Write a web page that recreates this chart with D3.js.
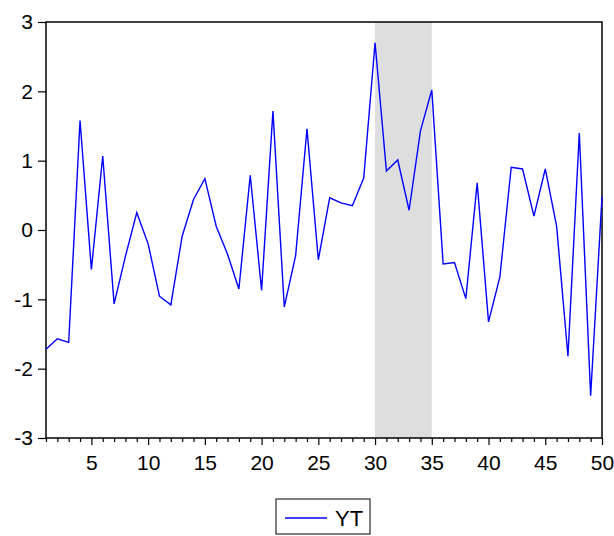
<!DOCTYPE html>
<html>
<head>
<meta charset="utf-8">
<script src="https://cdn.jsdelivr.net/npm/d3@7"></script>
<style>
  body { margin: 0; background: #fff; }
  svg { display: block; }
  text { font-family: Arial, "Liberation Sans", sans-serif; fill: #000; }
</style>
</head>
<body>
<div id="chart"></div>
<script>
// observations 1..50
const obs = d3.range(1, 51)
const yt = [-1.72, -1.57, -1.62, 1.58, -0.57, 1.065, -1.065, -0.38, 0.25, -0.2,
  -0.955, -1.08, -0.09, 0.44, 0.74, 0.055, -0.35, -0.85, 0.79, -0.87,
  1.715, -1.11, -0.37, 1.46, -0.43, 0.465, 0.39, 0.35, 0.75, 2.70,
  0.85, 1.01, 0.285, 1.43, 2.02, -0.49, -0.47, -0.99, 0.68, -1.325,
  -0.675, 0.905, 0.88, 0.2, 0.88, 0.055, -1.82, 1.40, -2.39, 0.48]
const shade = [30, 35]
const yTicks = [-3, -2, -1, 0, 1, 2, 3]
const xTicks = [5, 10, 15, 20, 25, 30, 35, 40, 45, 50]

const width = 614, height = 536
const pLeft = 46, pRight = 602, pTop = 22, pBottom = 438

const svg = d3.select('#chart').append('svg')
  .attr('width', width)
  .attr('height', height)

const x = d3.scaleLinear().domain([1, 50]).range([pLeft, pRight])
const y = d3.scaleLinear().domain([-3, 3]).range([pBottom, pTop])

// shaded period
svg.append('rect')
  .attr('x', x(shade[0]))
  .attr('y', pTop)
  .attr('width', x(shade[1]) - x(shade[0]))
  .attr('height', pBottom - pTop)
  .attr('fill', '#dedede')

// frame
svg.append('rect')
  .attr('x', pLeft).attr('y', pTop)
  .attr('width', pRight - pLeft).attr('height', pBottom - pTop)
  .attr('fill', 'none')
  .attr('stroke', '#000')
  .attr('stroke-width', 1.5)

// y axis (plain hyphen for negatives, like the original)
const yAxis = svg.append('g')
  .attr('transform', `translate(${pLeft},0)`)
  .call(d3.axisLeft(y).tickValues(yTicks).tickSize(8).tickPadding(5).tickFormat(d => String(d)))
yAxis.select('.domain').remove()
yAxis.selectAll('text').style('font-size', '21px')
yAxis.selectAll('line').attr('stroke-width', 1.2)

// x axis: minor ticks every obs, major ticks every 5
const xMinor = svg.append('g')
  .attr('transform', `translate(0,${pBottom})`)
  .call(d3.axisBottom(x).tickValues(obs.filter(d => d % 5 != 0)).tickSize(4).tickFormat(''))
xMinor.select('.domain').remove()
xMinor.selectAll('line').attr('stroke-width', 1.2)

const xAxis = svg.append('g')
  .attr('transform', `translate(0,${pBottom})`)
  .call(d3.axisBottom(x).tickValues(xTicks).tickSize(7).tickPadding(10))
xAxis.select('.domain').remove()
xAxis.selectAll('text').style('font-size', '21px')
xAxis.selectAll('line').attr('stroke-width', 1.2)

// series
const line = d3.line()
  .x((d, i) => x(obs[i]))
  .y(d => y(d))

svg.append('path')
  .datum(yt)
  .attr('d', line)
  .attr('fill', 'none')
  .attr('stroke', '#0000ff')
  .attr('stroke-width', 1.4)

// legend
const lg = svg.append('g').attr('transform', 'translate(276,499)')
lg.append('rect')
  .attr('width', 94).attr('height', 35)
  .attr('fill', '#fff')
  .attr('stroke', '#000')
  .attr('stroke-width', 1)
lg.append('line')
  .attr('x1', 9).attr('x2', 51)
  .attr('y1', 19).attr('y2', 19)
  .attr('stroke', '#0000ff')
  .attr('stroke-width', 1.4)
lg.append('text')
  .attr('x', 59).attr('y', 26.5)
  .style('font-size', '22px')
  .text('YT')
</script>
</body>
</html>
